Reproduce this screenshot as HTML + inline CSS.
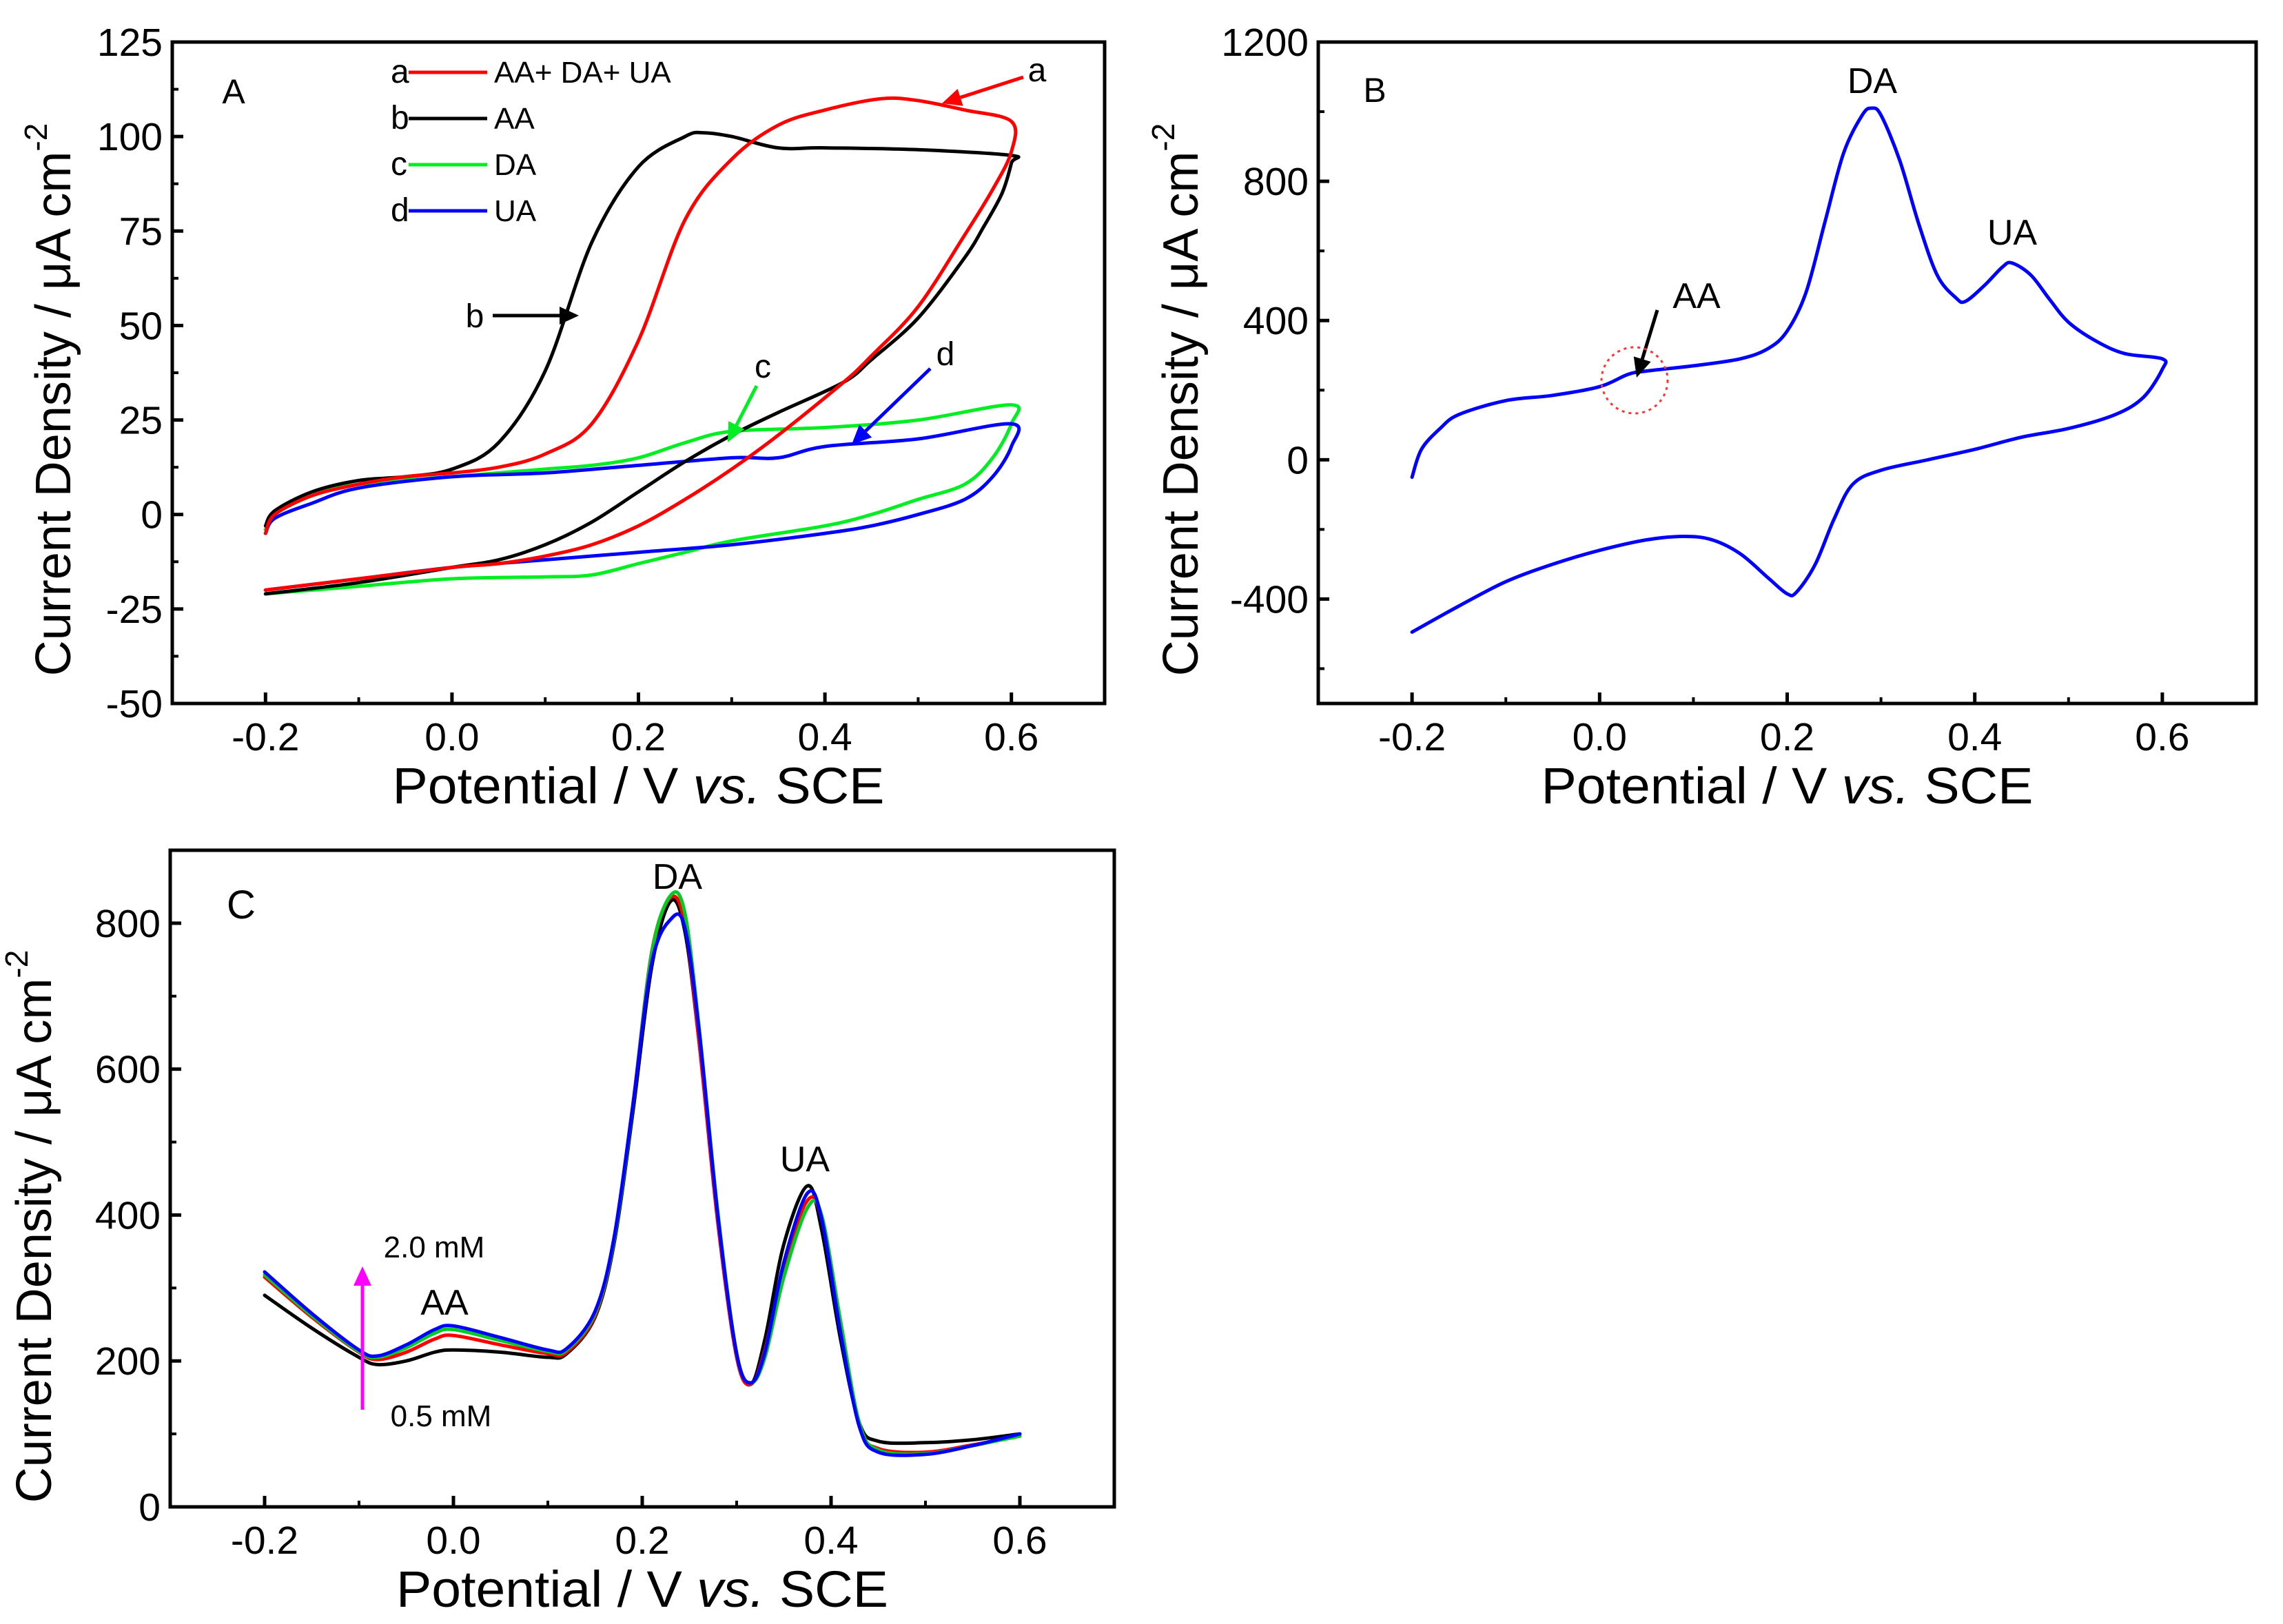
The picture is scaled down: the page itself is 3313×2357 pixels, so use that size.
<!DOCTYPE html>
<html><head><meta charset="utf-8"><style>
html,body{margin:0;padding:0;background:#fff;}
svg{display:block;font-family:"Liberation Sans",Arial,sans-serif;}
</style></head><body>
<svg id="fig" width="3313" height="2357" viewBox="0 0 3313 2357" xmlns="http://www.w3.org/2000/svg"></svg>
<script>
// ---------- Panel A data (cyclic voltammograms) ----------
const aRedX = [-0.2,-0.19,-0.15,-0.1,-0.05,0,0.05,0.1,0.15,0.2,0.25,0.3,0.35,0.4,0.46,0.5,0.55,0.6,0.6,0.58,0.55,0.5,0.45,0.42,0.35,0.3,0.25,0.2,0.15,0.1,0.05,0,-0.1,-0.2];
const aRedY = [-5,0,5,8,10,11,12.5,16,24,46,78,94,103,107,110,109.5,107,104,96,86,74,55,42,35,21,12,4,-3,-8,-11,-13,-14,-17,-20];
const aBlackX = [-0.2,-0.19,-0.15,-0.1,-0.05,0,0.05,0.1,0.15,0.2,0.25,0.27,0.3,0.35,0.4,0.5,0.6,0.6,0.59,0.57,0.55,0.5,0.45,0.42,0.35,0.3,0.25,0.2,0.15,0.1,0.05,0,-0.1,-0.2];
const aBlackY = [-3,1,6,9,10,12,19,38,72,92,100,101,100,97,97,96.5,95,93,85,76,68,52,41,35,27,21,14,6,-2,-8,-12,-14,-18,-21];
const aGreenX = [-0.2,-0.19,-0.15,-0.1,0,0.1,0.15,0.2,0.25,0.3,0.4,0.5,0.6,0.6,0.58,0.55,0.5,0.45,0.4,0.3,0.25,0.2,0.15,0.1,0,-0.1,-0.2];
const aGreenY = [-4,0,5,8,10,12,13,15,19,22,23,25,29,24,15,8,4,0,-3,-7,-10,-13,-16,-16.5,-17,-19,-21];
const aBlueX = [-0.2,-0.19,-0.15,-0.1,0,0.1,0.2,0.3,0.35,0.4,0.5,0.6,0.6,0.58,0.55,0.5,0.45,0.4,0.3,0.2,0.1,0,-0.1,-0.2];
const aBlueY = [-5,-1,3,7,10,11,13,15,15,18,20,24,18,10,4,0,-3,-5,-8,-10,-12,-14,-17,-20];
const aYTicks = [-50,-25,0,25,50,75,100,125];
const xTicks = [-0.2,0,0.2,0.4,0.6];
const xTickLabels = ["-0.2","0.0","0.2","0.4","0.6"];
// ---------- Panel B data ----------
const bX = [-0.2,-0.19,-0.17,-0.15,-0.1,-0.05,0,0.03,0.05,0.1,0.15,0.18,0.2,0.22,0.24,0.26,0.28,0.29,0.3,0.32,0.34,0.36,0.38,0.39,0.41,0.43,0.44,0.46,0.48,0.5,0.53,0.56,0.6,0.6,0.58,0.55,0.5,0.45,0.4,0.35,0.3,0.27,0.25,0.23,0.21,0.2,0.18,0.15,0.12,0.09,0.05,0,-0.05,-0.1,-0.15,-0.2];
const bY = [-50,30,90,130,170,185,210,245,255,270,290,320,370,480,680,880,990,1010,990,860,680,530,465,455,500,555,565,530,460,395,340,305,290,260,180,130,90,65,30,0,-30,-70,-170,-300,-380,-385,-340,-270,-230,-220,-230,-260,-300,-350,-420,-495];
const bYTicks = [-400,0,400,800,1200];
// ---------- Panel C data (DPV) ----------
const cX = [-0.2,-0.15,-0.1,-0.08,-0.05,-0.02,0,0.05,0.1,0.12,0.15,0.17,0.19,0.21,0.23,0.245,0.26,0.28,0.3,0.315,0.33,0.35,0.375,0.39,0.41,0.43,0.45,0.5,0.55,0.6];
const cBlackY = [290,245,205,195,200,212,215,212,205,210,260,360,540,740,830,790,640,400,210,168,230,360,440,380,230,115,90,88,92,100];
const cRedY   = [315,260,212,202,212,230,235,222,210,212,262,365,550,760,835,800,640,390,205,168,215,330,420,395,245,110,80,75,85,97];
const cGreenY = [318,262,213,205,218,238,243,228,213,215,265,365,548,758,838,815,660,405,210,170,205,315,410,400,255,115,78,73,84,97];
const cBlueY  = [322,265,215,207,222,243,248,232,215,217,268,368,550,745,805,795,655,400,210,170,212,335,430,395,240,110,75,72,84,100];
const cYTicks = [0,200,400,600,800];

const NS = "http://www.w3.org/2000/svg";
const svg = document.getElementById("fig");
function mk(tag, attrs, parent){ const e=document.createElementNS(NS,tag); for(const k in attrs) e.setAttribute(k,attrs[k]); (parent||svg).appendChild(e); return e; }
function txt(str, attrs, parent){ const e=mk("text",attrs,parent); e.textContent=str; return e; }

function makeAxes(L,R,T,B,x0,x1,y0,y1){
  return { sx: v => L + (v-x0)/(x1-x0)*(R-L), sy: v => B - (v-y0)/(y1-y0)*(B-T), L,R,T,B };
}
function smoothPath(pts){
  let d = "M"+pts[0][0].toFixed(1)+","+pts[0][1].toFixed(1);
  for(let i=0;i<pts.length-1;i++){
    const p0=pts[Math.max(i-1,0)], p1=pts[i], p2=pts[i+1], p3=pts[Math.min(i+2,pts.length-1)];
    const t=6;
    const c1=[p1[0]+(p2[0]-p0[0])/t, p1[1]+(p2[1]-p0[1])/t];
    const c2=[p2[0]-(p3[0]-p1[0])/t, p2[1]-(p3[1]-p1[1])/t];
    d+=" C"+c1[0].toFixed(1)+","+c1[1].toFixed(1)+" "+c2[0].toFixed(1)+","+c2[1].toFixed(1)+" "+p2[0].toFixed(1)+","+p2[1].toFixed(1);
  }
  return d;
}
function drawCurve(ax, xs, ys, color, name, g){
  const pts = xs.map((x,i)=>[ax.sx(x), ax.sy(ys[i])]);
  const p = mk("path",{d:smoothPath(pts),fill:"none",stroke:color,"stroke-width":5,"stroke-linejoin":"round","stroke-linecap":"round"},g);
  
  
}
function frame(ax, yTicks, yMinor, xMinor, g, panel){
  const f = mk("rect",{x:ax.L,y:ax.T,width:ax.R-ax.L,height:ax.B-ax.T,fill:"none",stroke:"#000","stroke-width":5},g);
  
  
  yTicks.forEach(v=>{
    const y=ax.sy(v);
    const t=mk("line",{x1:ax.L,x2:ax.L+16,y1:y,y2:y,stroke:"#000","stroke-width":5},g);
    
    
    const l=txt(String(v),{x:ax.L-14,y:y+20,"font-size":57,"text-anchor":"end",fill:"#000"},g);
    
    
  });
  yMinor.forEach(v=>{
    const y=ax.sy(v);
    const t=mk("line",{x1:ax.L,x2:ax.L+9,y1:y,y2:y,stroke:"#000","stroke-width":4},g);
    
    
  });
  xTicks.forEach((v,i)=>{
    const x=ax.sx(v);
    const t=mk("line",{x1:x,x2:x,y1:ax.B,y2:ax.B-16,stroke:"#000","stroke-width":5},g);
    
    
    const l=txt(xTickLabels[i],{x:x,y:ax.B+68,"font-size":57,"text-anchor":"middle",fill:"#000"},g);
    
    
  });
  xMinor.forEach(v=>{
    const x=ax.sx(v);
    const t=mk("line",{x1:x,x2:x,y1:ax.B,y2:ax.B-9,stroke:"#000","stroke-width":4},g);
    
    
  });
}
function titles(ax, xt, yx, yc, g, panel){
  const xtEl = mk("text",{x:(ax.L+ax.R)/2,y:xt,"font-size":74,"text-anchor":"middle",fill:"#000",textLength:714,lengthAdjust:"spacingAndGlyphs"},g);
  
  
  xtEl.innerHTML = 'Potential / V <tspan font-style="italic">vs.</tspan> SCE';
  const ytEl = mk("text",{x:0,y:0,"font-size":72,"text-anchor":"middle",fill:"#000",transform:`translate(${yx},${yc}) rotate(-90)`},g);
  
  
  ytEl.innerHTML = 'Current Density / \u03BCA cm<tspan font-size="46" dy="-34">-2</tspan>';
}
function arrow(x1,y1,x2,y2,color,g,name){
  const ang=Math.atan2(y2-y1,x2-x1), L=28, W=13;
  const bx=x2-L*Math.cos(ang), by=y2-L*Math.sin(ang);
  const ln=mk("line",{x1:x1,y1:y1,x2:bx,y2:by,stroke:color,"stroke-width":5},g);
  
  
  const px=-Math.sin(ang)*W, py=Math.cos(ang)*W;
  const hd=mk("polygon",{points:`${x2},${y2} ${bx+px},${by+py} ${bx-px},${by-py}`,fill:color},g);
  
  
}
function label(s,x,y,size,g,name,anchor){
  const t=txt(s,{x:x,y:y,"font-size":size,"text-anchor":anchor||"middle",fill:"#000"},g);
  
  
  return t;
}

// ---------- Panel A ----------
const gA = mk("g",{});  
const axA = makeAxes(250,1603,61,1021,-0.3,0.7,-50,125);
drawCurve(axA,aGreenX,aGreenY,"#00ee22","curve-c-da",gA);
drawCurve(axA,aBlueX,aBlueY,"#0000ff","curve-d-ua",gA);
drawCurve(axA,aBlackX,aBlackY,"#000000","curve-b-aa",gA);
drawCurve(axA,aRedX,aRedY,"#ff0000","curve-a-aa-da-ua",gA);
frame(axA,aYTicks,[-37.5,-12.5,12.5,37.5,62.5,87.5,112.5],[-0.1,0.1,0.3,0.5],gA,"a");
titles(axA,1166,102,580,gA,"a");
label("A",339,150,50,gA,"panel-a-letter");
const legNames=["AA+ DA+ UA","AA","DA","UA"], legLetters=["a","b","c","d"], legColors=["#ff0000","#000","#00ee22","#0000ff"];
legNames.forEach((n,i)=>{
  const y=120+i*67;
  label(legLetters[i],567,y,48,gA,"legend-letter-"+legLetters[i],"start");
  const l=mk("line",{x1:593,x2:707,y1:y-15,y2:y-15,stroke:legColors[i],"stroke-width":5},gA);
  
  
  label(n,717,y,44,gA,"legend-text-"+legLetters[i],"start");
});
label("a",1505,118,48,gA,"annotation-a");
arrow(1485,112,1367,150,"#ff0000",gA,"arrow-a");
label("b",689,475,48,gA,"annotation-b");
arrow(715,458,840,458,"#000",gA,"arrow-b");
label("c",1107,548,48,gA,"annotation-c");
arrow(1098,560,1056,642,"#00ee22",gA,"arrow-c");
label("d",1372,530,48,gA,"annotation-d");
arrow(1350,535,1236,645,"#0000ff",gA,"arrow-d");

// ---------- Panel B ----------
const gB = mk("g",{});  
const axB = makeAxes(1913,3274,61,1021,-0.3,0.7,-700,1200);
drawCurve(axB,bX,bY,"#0000ff","curve-b-cv",gB);
frame(axB,bYTicks,[-600,-200,200,600,1000],[-0.1,0.1,0.3,0.5],gB,"b");
titles(axB,1166,1738,580,gB,"b");
label("B",1995,148,50,gB,"panel-b-letter");
label("DA",2717,135,52,gB,"label-da-b");
label("UA",2920,355,52,gB,"label-ua-b");
label("AA",2462,447,52,gB,"label-aa-b");
arrow(2405,450,2375,548,"#000",gB,"arrow-aa-b");
const circ=mk("circle",{cx:2372,cy:552,r:48,fill:"none",stroke:"#ff3333","stroke-width":3,"stroke-dasharray":"4,6"},gB);



// ---------- Panel C ----------
const gC = mk("g",{});  
const axC = makeAxes(247,1617,1234,2187,-0.3,0.7,0,900);
drawCurve(axC,cX,cBlackY,"#000000","dpv-0-5mm",gC);
drawCurve(axC,cX,cRedY,"#ff0000","dpv-1-0mm",gC);
drawCurve(axC,cX,cGreenY,"#00cc22","dpv-1-5mm",gC);
drawCurve(axC,cX,cBlueY,"#0000ff","dpv-2-0mm",gC);
frame(axC,cYTicks,[100,300,500,700],[-0.1,0.1,0.3,0.5],gC,"c");
titles(axC,2332,74,1780,gC,"c");
label("C",350,1333,58,gC,"panel-c-letter");
label("DA",983,1290,52,gC,"label-da-c");
label("UA",1168,1700,52,gC,"label-ua-c");
label("AA",645,1908,52,gC,"label-aa-c");
label("2.0 mM",630,1825,44,gC,"label-2mm");
label("0.5 mM",640,2070,44,gC,"label-0-5mm");
arrow(526,2046,526,1838,"#ff00ff",gC,"concentration-arrow");
</script>
</body></html>
